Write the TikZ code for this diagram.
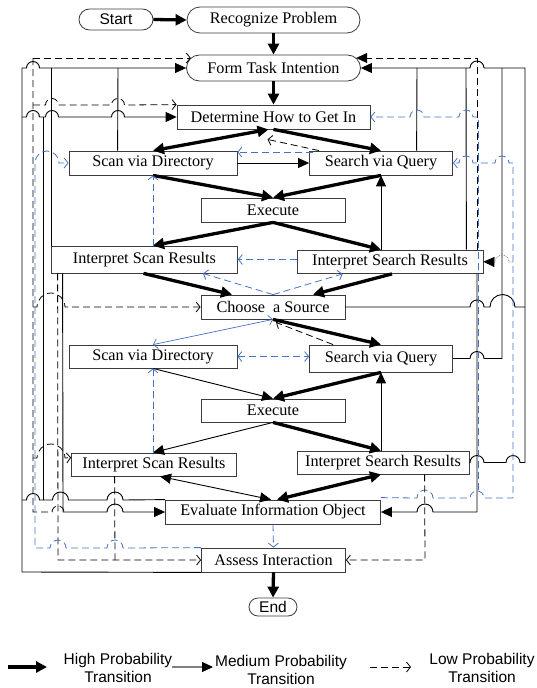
\documentclass[tikz,border=0pt]{standalone}
\usepackage{fontspec}
\setmainfont{Liberation Serif}
\newfontfamily\lsans{Liberation Sans}
\usetikzlibrary{arrows.meta,calc}
\definecolor{myblue}{RGB}{68,114,196}
\definecolor{boxgray}{RGB}{60,60,60}
\begin{document}
\begin{tikzpicture}[x=1pt,y=-1pt,
  box/.style={draw=boxgray, line width=0.8pt, inner sep=0pt, fill=white, font=\fontsize{16.2}{18}\selectfont},
  hi/.style={line width=3.3pt, -{Triangle[length=11pt,width=11pt]}},
  hiboth/.style={line width=3.3pt, {Triangle[length=11pt,width=11pt]}-{Triangle[length=11pt,width=11pt]}},
  med/.style={line width=0.9pt, -{Triangle[length=11pt,width=10pt]}},
  medboth/.style={line width=0.9pt, {Triangle[length=11pt,width=10pt]}-{Triangle[length=11pt,width=10pt]}},
  conn/.style={line width=0.9pt},
  lowline/.style={line width=0.8pt, dash pattern=on 7pt off 4pt},
  low/.style={lowline, -{Straight Barb[length=4pt,width=10pt]}},
  lowfill/.style={lowline, -{Triangle[length=11pt,width=10pt]}},
  blow/.style={low, myblue},
  blowline/.style={lowline, myblue},
  bloboth/.style={lowline, myblue, {Straight Barb[length=4pt,width=10pt]}-{Straight Barb[length=4pt,width=10pt]}},
  bthin/.style={myblue, line width=0.7pt, {Straight Barb[length=4pt,width=10pt]}-{Straight Barb[length=4pt,width=10pt]}},
  dotl/.style={gray, line width=0.7pt, densely dotted, -{Triangle[length=11pt,width=10pt,color=black]}},
  legtext/.style={font=\lsans\fontsize{15.5}{18}\selectfont, align=center, inner sep=0pt}
]
\useasboundingbox (0,0) rectangle (537,688);

% ---------- nodes ----------
\node[box, rounded corners=10.5pt, minimum width=74pt, minimum height=21pt, font=\lsans\fontsize{15.5}{18}\selectfont] (start) at (116,19.5) {Start};
\node[box, rounded corners=13pt, minimum width=173pt, minimum height=26pt] (recog) at (273.5,20) {Recognize Problem};
\node[box, rounded corners=13pt, minimum width=174pt, minimum height=26pt] (form) at (273.5,68) {Form Task Intention};
\node[box, minimum width=193pt, minimum height=24pt] (determ) at (273.5,117) {Determine How to Get In};
\node[box, minimum width=168pt, minimum height=24pt] (scan1) at (153,163) {Scan via Directory};
\node[box, minimum width=143pt, minimum height=24pt] (search1) at (381,163) {Search via Query};
\node[box, minimum width=144pt, minimum height=24pt] (exec1) at (273,210) {Execute};
\node[box, minimum width=186pt, minimum height=27pt] (iscan1) at (144.5,259.5) {Interpret Scan Results};
\node[box, minimum width=186pt, minimum height=23.5pt] (isearch1) at (390,261.75) {Interpret Search Results};
\node[box, minimum width=144pt, minimum height=24pt] (choose) at (273,307) {Choose~ a Source};
\node[box, minimum width=168pt, minimum height=23pt] (scan2) at (153,356.5) {Scan via Directory};
\node[box, minimum width=143pt, minimum height=27pt] (search2) at (381,358.5) {Search via Query};
\node[box, minimum width=144pt, minimum height=23pt] (exec2) at (273,410.5) {Execute};
\node[box, minimum width=165pt, minimum height=23pt] (iscan2) at (154,464.5) {Interpret Scan Results};
\node[box, minimum width=172pt, minimum height=23pt] (isearch2) at (383,462.5) {Interpret Search Results};
\node[box, minimum width=215pt, minimum height=24pt] (eval) at (273,512) {Evaluate Information Object};
\node[box, minimum width=144pt, minimum height=24pt] (assess) at (273.5,560) {Assess Interaction};
\node[box, rounded corners=9pt, minimum width=48pt, minimum height=18pt, font=\lsans\fontsize{15.5}{18}\selectfont] (endn) at (273,607) {End};

% ---------- main flow ----------
\draw[hi] (start.east) -- (recog.west);
\draw[hi] (recog.south) -- (form.north);
\draw[hi] (form.south) -- (determ.north);
\draw[hiboth] ($(determ.south)+(-5,0)$) -- (scan1.north);
\draw[hi] (determ.south) -- (search1.north);
\draw[med] (scan1.east) -- (search1.west);
\draw[hi] (scan1.south) -- (exec1.north);
\draw[hi] (search1.south) -- (exec1.north);
\draw[hi] (exec1.south) -- (scan1.south |- iscan1.north);
\draw[hi] (exec1.south) -- (search1.south |- isearch1.north);
\draw[med] (search1.south |- isearch1.north) -- (search1.south);
\draw[hi] ($(iscan1.south)+(-1,0)$) -- ($(choose.north)+(-41,0)$);
\draw[hi] ($(isearch1.south)+(2,0)$) -- ($(choose.north)+(40,0)$);
\draw[blow] (isearch1.west |- iscan1.east) -- (iscan1.east);
\draw[blow] (scan1.south |- iscan1.north) -- (scan1.south);
\draw[blow] (choose.north) -- ($(iscan1.south east)+(-35,0)$);
\draw[blow] (choose.north) -- ($(isearch1.south west)+(46,0)$);
\draw[blow] ($(search1.north west)+(4,1.5)$) -- ($(scan1.north east)+(0,1.5)$);
\draw[low] ($(search1.north west)+(10,0)$) -- ($(determ.south)+(-6,10)$);

\draw[bthin] (choose.south) -- (scan2.north);
\draw[hi] (choose.south) -- (search2.north);
\draw[low] ($(search2.north west)+(24,0)$) -- ($(choose.south)+(3,3)$);
\draw[bloboth] (scan2.east) -- (scan2.east -| search2.west);
\draw[med] (scan2.south) -- (exec2.north);
\draw[hi] (search2.south) -- (exec2.north);
\draw[med] (exec2.south) -- (scan2.south |- iscan2.north);
\draw[hi] (exec2.south) -- (search2.south |- isearch2.north);
\draw[med] (search2.south |- isearch2.north) -- (search2.south);
\draw[blow] (scan2.south |- iscan2.north) -- (scan2.south);
\draw[medboth] ($(iscan2.south)+(6,0)$) -- ($(eval.north)+(-2,0)$);
\draw[hiboth] ($(isearch2.south)+(-2,0)$) -- ($(eval.north)+(4,0)$);
\draw[blow] (eval.south) -- (assess.north);
\draw[hi] (assess.south) -- (endn.north);

% ---------- left routes ----------
\draw[med] (assess.south west) -- (22,572) -- (22,68) -- (26.5,68) arc[start angle=180,end angle=0,radius=6.5pt] -- (form.west);
\draw[med] (22,117) -- (26.5,117) arc[start angle=180,end angle=0,radius=6.5pt] -- (45.5,117) arc[start angle=180,end angle=0,radius=6.5pt] -- (111.5,117) arc[start angle=180,end angle=0,radius=6.5pt] -- (determ.west);
\draw[conn] (eval.north west) -- (123,500) arc[start angle=0,end angle=180,radius=8pt] -- (68.5,500) arc[start angle=0,end angle=180,radius=8pt] -- (39.5,500) arc[start angle=0,end angle=180,radius=6.5pt] -- (22,500);
\draw[conn] (43,500) -- (43,117);
\draw[conn] (iscan1.north west) -- (iscan1.north west |- form.west);
\draw[conn] ($(scan1.north west)+(49,0)$) -- (118,68);
\draw[med] ($(iscan1.south west)+(11.5,0)$) -- (63,512) -- (107,512) arc[start angle=180,end angle=0,radius=8pt] -- (eval.west);
\draw[low] ($(iscan1.south west)+(6.5,0)$) -- (58,560) -- (assess.west);
\draw[lowline] ($(iscan2.south west)+(43.5,0)$) -- (115,560);
% black dashed trunk at x=33
\draw[lowline] (33,58) -- (33,512) -- (52,512) arc[start angle=180,end angle=0,radius=6pt] -- (64,512);
\draw[low] (33,58) -- ($(form.west)+(4.7,-10)$);
\draw[low] (33,105) -- (45.5,105) arc[start angle=180,end angle=0,radius=6.5pt] -- (111.5,105) arc[start angle=180,end angle=0,radius=6.5pt] -- (determ.north west);
\draw[low] (33,307) -- (37,307) arc[start angle=180,end angle=0,radius=14pt] -- (choose.west);
\draw[low] (33,458) -- (37,458) arc[start angle=180,end angle=0,radius=14pt] -- ($(iscan2.north west)+(0,5)$);
% blue dashed trunk at x=35
\draw[blow] (assess.north west) -- (123,548) arc[start angle=0,end angle=180,radius=8pt] -- (66,548) arc[start angle=0,end angle=180,radius=8pt] -- (35,548) -- (35,163) arc[start angle=180,end angle=0,radius=12pt] -- (scan1.west);

% ---------- right routes ----------
\draw[med] (isearch2.east) -- (470,462.5) arc[start angle=180,end angle=0,radius=7pt] -- (506,462.5) arc[start angle=180,end angle=0,radius=7pt] -- (525,462.5) -- (525,68) -- (484,68) arc[start angle=0,end angle=180,radius=7pt] -- (form.east);
\draw[conn] (choose.east) -- (470,307) arc[start angle=180,end angle=0,radius=7pt] -- (490,307) arc[start angle=180,end angle=0,radius=12.5pt] -- (525,307);
\draw[conn] (search2.east) -- (470,358.5) arc[start angle=180,end angle=0,radius=7pt] -- (502,358.5) -- (502,68);
\draw[conn] ($(isearch1.north east)+(-17,0)$) -- (466,68);
\draw[conn] ($(search1.north west)+(107.5,0)$) -- (417,68);
\draw[lowfill] (477,250) -- (477,58) -- ($(form.east)+(-4.7,-10)$);
\draw[med] (477,273.5) -- (477,512) -- (433,512) arc[start angle=0,end angle=180,radius=8pt] -- (eval.east);
\draw[blow] ($(eval.north east)+(0,-2)$) -- (417,498) arc[start angle=180,end angle=0,radius=8pt] -- (470,498) arc[start angle=180,end angle=0,radius=7pt] -- (513,498) -- (513,163) -- (509,163) arc[start angle=0,end angle=180,radius=7pt] -- (473,163) arc[start angle=0,end angle=180,radius=7pt] -- (search1.east);
\draw[blow] (478.5,490) -- (478.5,117) -- (473,117) arc[start angle=0,end angle=180,radius=7pt] -- (424,117) arc[start angle=0,end angle=180,radius=7pt] -- (determ.east);
\draw[dotl] (513,262) -- (509,262) arc[start angle=0,end angle=180,radius=7pt] -- (isearch1.east);
\draw[low] ($(isearch2.south west)+(128,0)$) -- (425,560) -- (assess.east);

% ---------- legend ----------
\coordinate (lhA) at (8,667);   \coordinate (lhB) at (47,667);
\coordinate (lmA) at (172,667); \coordinate (lmB) at (213,667);
\coordinate (llA) at (370,667); \coordinate (llB) at (411,667);
\draw[hi] (lhA) -- (lhB);
\draw[line width=1.2pt, gray, -{Triangle[length=11pt,width=10pt,color=black]}] (lmA) -- (lmB);
\draw[low] (llA) -- (llB);
\node[legtext] (lgh) at (118,668) {High Probability\\Transition};
\node[legtext] (lgm) at (281,670) {Medium Probability\\Transition};
\node[legtext] (lgl) at (482,667.5) {Low Probability\\Transition};
\end{tikzpicture}
\end{document}
